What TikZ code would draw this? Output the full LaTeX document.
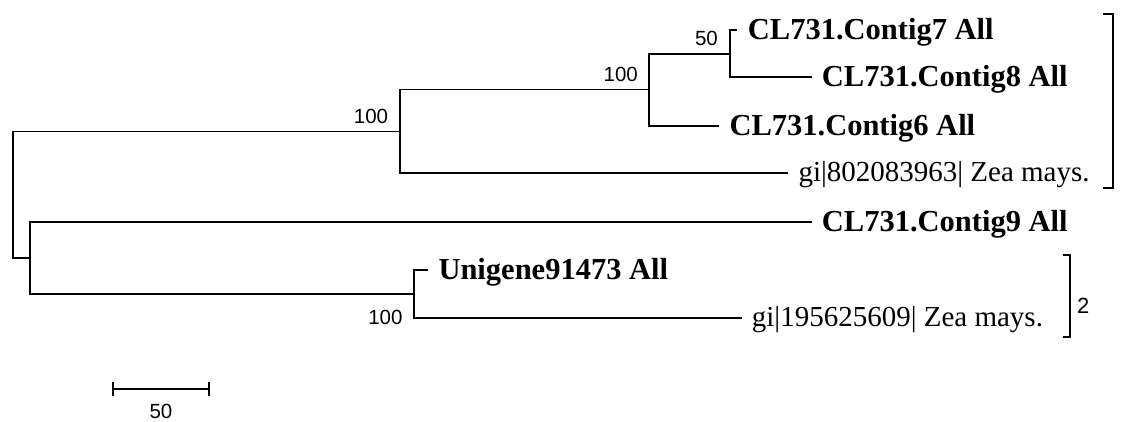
\documentclass[tikz,border=0pt]{standalone}
\usepackage{fontspec}
\setmainfont{Liberation Serif}
\newfontfamily\arialfont{Liberation Sans}
\begin{document}
\begin{tikzpicture}[x=1pt,y=-1pt,
  branch/.style={line width=1.8pt, line join=miter},
  bracket/.style={line width=1.8pt, line join=miter},
  boldlab/.style={anchor=base west, inner sep=0pt, font=\fontsize{30.5}{30.5}\selectfont\bfseries},
  plainlab/.style={anchor=base west, inner sep=0pt, font=\fontsize{29}{29}\selectfont},
  boot/.style={anchor=base east, inner sep=0pt, font=\arialfont\fontsize{20.5}{20.5}\selectfont},
  barlab/.style={anchor=base, inner sep=0pt, font=\arialfont\fontsize{20.5}{20.5}\selectfont},
]
\useasboundingbox (0,0) rectangle (1121,421);

% internal nodes
\coordinate (nC) at (730,53.7);
\coordinate (nB) at (649.3,89.5);
\coordinate (nA) at (400,131.5);
\coordinate (nE) at (414,293.8);
\coordinate (nD) at (30.3,258);
\coordinate (root) at (12.7,195);
% tips
\coordinate (t7) at (736.7,30);
\coordinate (t8) at (811.7,77.3);
\coordinate (t6) at (719.3,126);
\coordinate (tz1) at (788.3,173.3);
\coordinate (t9) at (811.7,221.7);
\coordinate (tu) at (428.3,270);
\coordinate (tz2) at (741.7,318);

% branches
\draw[branch] (t7) -| (nC) |- (t8);
\draw[branch] (nC) -| (nB) |- (t6);
\draw[branch] (nB) -| (nA) |- (tz1);
\draw[branch] (nA) -| (root) |- (nD);
\draw[branch] (t9) -| (nD) |- (nE);
\draw[branch] (tu) -| (nE) |- (tz2);

% tip labels
\node[boldlab] (l7) at ([xshift=11pt,yshift=-9.5pt]t7) {CL731.Contig7 All};
\node[boldlab] (l8) at ([xshift=10pt,yshift=-9.5pt]t8) {CL731.Contig8 All};
\node[boldlab] (l6) at ([xshift=10pt,yshift=-9.5pt]t6) {CL731.Contig6 All};
\node[plainlab] (lz1) at ([xshift=10pt,yshift=-8pt]tz1) {gi|802083963| Zea mays.};
\node[boldlab] (l9) at ([xshift=10pt,yshift=-9.5pt]t9) {CL731.Contig9 All};
\node[boldlab] (lu) at ([xshift=10pt,yshift=-9.5pt]tu) {Unigene91473 All};
\node[plainlab] (lz2) at ([xshift=10pt,yshift=-8pt]tz2) {gi|195625609| Zea mays.};

% bootstrap values
\node[boot] (bA) at ([xshift=-11.7pt,yshift=8.2pt]nA) {100};
\node[boot] (bB) at ([xshift=-11.3pt,yshift=7.8pt]nB) {100};
\node[boot] (bC) at ([xshift=-12pt,yshift=8.7pt]nC) {50};
\node[boot] (bE) at ([xshift=-11.3pt,yshift=-30.2pt]nE) {100};

% group brackets
\coordinate (g1t) at (1113.3,14);
\coordinate (g1b) at (1113.3,188.3);
\draw[bracket] ([xshift=-10pt]g1t) -- (g1t) -- (g1b) -- ([xshift=-10pt]g1b);
\coordinate (g2t) at (1070,255);
\coordinate (g2b) at (1070,337);
\draw[bracket] ([xshift=-7pt]g2t) -- (g2t) -- (g2b) -- ([xshift=-7pt]g2b);
\node[anchor=base west, inner sep=0pt, font=\arialfont\fontsize{22}{22}\selectfont] (g2lab) at (1077,313) {2};

% scale bar
\coordinate (sL) at (112.7,389);
\coordinate (sR) at (209.3,389);
\draw[branch] (sL) -- (sR);
\draw[branch] ([yshift=7pt]sL) -- ([yshift=-7pt]sL);
\draw[branch] ([yshift=7pt]sR) -- ([yshift=-7pt]sR);
\node[barlab] (sLab) at (161,418) {50};
\end{tikzpicture}
\end{document}
